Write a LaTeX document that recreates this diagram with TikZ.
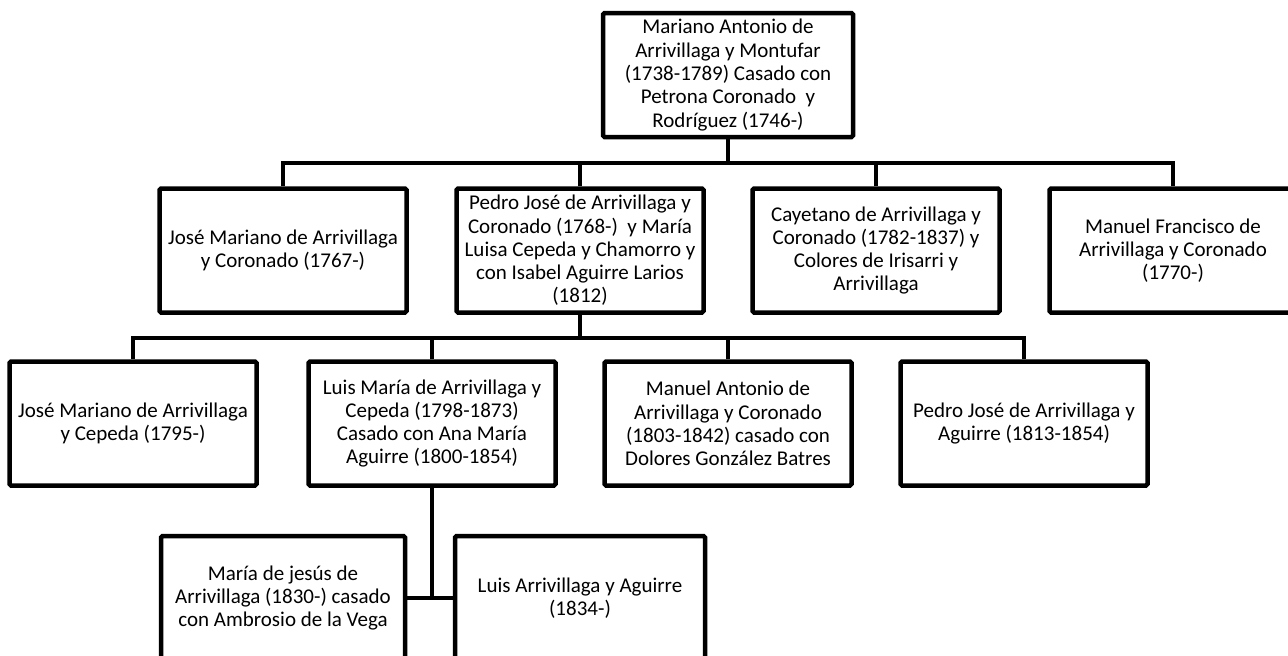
\documentclass[tikz,border=0pt]{standalone}
\usepackage{fontspec}
\setmainfont{Carlito}
\begin{document}
\begin{tikzpicture}[x=1pt,y=-1pt,
  person/.style={draw=black, line width=4.5pt, rounded corners=1.5pt, rectangle,
    minimum width=247pt, minimum height=124pt, inner sep=0pt, align=center,
    font=\fontsize{21}{23.3}\selectfont},
  link/.style={draw=black, line width=4.5pt}]
\fill[white] (0,0) rectangle (1288,656);
\useasboundingbox (0,0) rectangle (1288,656);
% nodes
\node[person, minimum width=250pt] (top) at (728,75) {Mariano Antonio de\\Arrivillaga y Montufar\\(1738-1789) Casado con\\Petrona Coronado\ \ y\\Rodríguez (1746-)};
\node[person] (A) at (283,250.5) {José Mariano de Arrivillaga\\y Coronado (1767-)};
\node[person] (B) at (580,250.5) {Pedro José de Arrivillaga y\\Coronado (1768-)\ \ y María\\Luisa Cepeda y Chamorro y\\con Isabel Aguirre Larios\\(1812)};
\node[person] (C) at (876,250.5) {Cayetano de Arrivillaga y\\Coronado (1782-1837) y\\Colores de Irisarri y\\Arrivillaga};
\node[person] (D) at (1173,250.5) {Manuel Francisco de\\Arrivillaga y Coronado\\(1770-)};
\node[person] (E) at (133,423.5) {José Mariano de Arrivillaga\\y Cepeda (1795-)};
\node[person] (F) at (432,423.5) {Luis María de Arrivillaga y\\Cepeda (1798-1873)\\Casado con Ana María\\Aguirre (1800-1854)};
\node[person] (G) at (728,423.5) {Manuel Antonio de\\Arrivillaga y Coronado\\(1803-1842) casado con\\Dolores González Batres};
\node[person] (H) at (1024,423.5) {Pedro José de Arrivillaga y\\Aguirre (1813-1854)};
\node[person, minimum width=244pt] (I) at (283,598) {María de jesús de\\Arrivillaga (1830-) casado\\con Ambrosio de la Vega};
\node[person, minimum width=250pt] (J) at (580,598) {Luis Arrivillaga y Aguirre\\(1834-)};
% bus coordinates
\coordinate (b1) at (728,163);
\coordinate (b2) at (580,338);
\coordinate (b3) at (432,598);
% connectors level 1
\draw[link] (top.south) -- (b1);
\draw[link] (A.north) |- (b1);
\draw[link] (D.north) |- (b1);
\draw[link] (B.north) -- (B.north |- b1);
\draw[link] (C.north) -- (C.north |- b1);
% connectors level 2
\draw[link] (B.south) -- (b2);
\draw[link] (E.north) |- (b2);
\draw[link] (H.north) |- (b2);
\draw[link] (F.north) -- (F.north |- b2);
\draw[link] (G.north) -- (G.north |- b2);
% connectors level 3
\draw[link] (F.south) -- (b3);
\draw[link] (I.east) -- (J.west);
\end{tikzpicture}
\end{document}
